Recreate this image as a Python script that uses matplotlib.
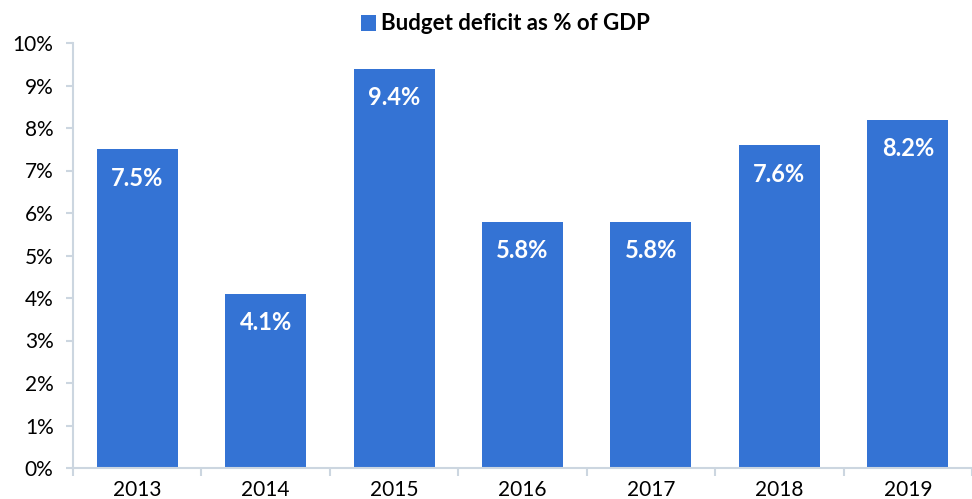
import matplotlib.pyplot as plt
from matplotlib.ticker import FuncFormatter

years = ["2013", "2014", "2015", "2016", "2017", "2018", "2019"]
deficit = [7.5, 4.1, 9.4, 5.8, 5.8, 7.6, 8.2]

plt.rcParams["font.family"] = ["Lato", "DejaVu Sans"]

bar_color = "#3473d4"
axis_color = "#ccd6e0"

fig = plt.figure(figsize=(9.72, 4.99), dpi=100)
ax = fig.add_axes([73 / 972, 31 / 499, 899 / 972, 425 / 499])

x = list(range(len(years)))
bars = ax.bar(x, deficit, width=0.63, color=bar_color, label="Budget deficit as % of GDP")

# etiquetas dentro de las barras
for xi, v in zip(x, deficit):
    ax.annotate(f"{v:.1f}%", (xi, v), xytext=(0, -21), textcoords="offset points",
                ha="center", va="center", color="white", fontsize=17, fontweight="bold")

ax.set_xlim(-0.5, 6.45)
ax.set_ylim(0, 10)
ax.set_yticks(range(0, 11))
ax.yaxis.set_major_formatter(FuncFormatter(lambda v, p: f"{v:.0f}%"))
ax.set_xticks(x)
ax.set_xticklabels(years)
ax.set_xticks([i - 0.5 for i in range(len(years) + 1)], minor=True)
ax.tick_params(axis="x", which="major", length=0, labelsize=15, pad=9)
ax.tick_params(axis="x", which="minor", length=6, width=1.5, color=axis_color)
ax.tick_params(axis="y", length=5, width=1.5, color=axis_color, labelsize=15, pad=9)

for s in ["top", "right"]:
    ax.spines[s].set_visible(False)
for s in ["left", "bottom"]:
    ax.spines[s].set_color(axis_color)
    ax.spines[s].set_linewidth(1.5)

leg = fig.legend(handles=[bars], loc="center", bbox_to_anchor=(505 / 972, 1 - 24 / 499),
                 frameon=False, handlelength=0.7, handleheight=0.7, handletextpad=0.2,
                 prop={"size": 16, "weight": "bold"})

fig.savefig("out.png", dpi=100)
